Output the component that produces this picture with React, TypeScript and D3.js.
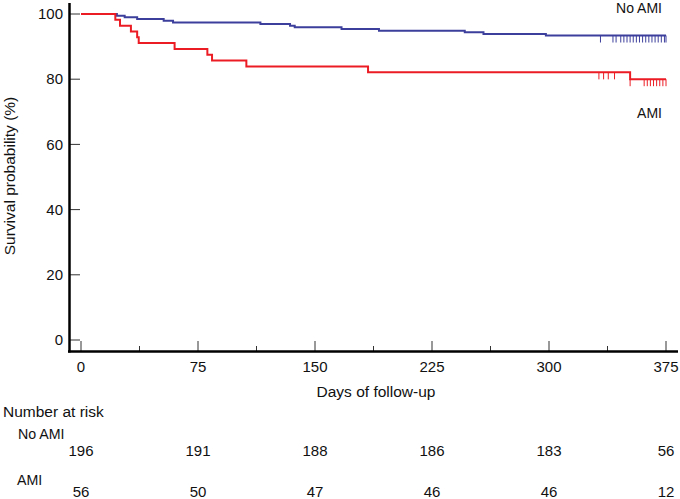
import React from "react";
import * as d3 from "d3";

const noAmiDays = [0, 23, 28, 36, 53, 59, 115, 134, 137, 167, 191, 246, 258, 298, 375];
const noAmiSurv = [100, 99.5, 99.0, 98.5, 97.9, 97.4, 96.9, 96.4, 95.9, 95.4, 94.9, 94.4, 93.9, 93.4, 93.4];
const amiDays = [0, 22, 25, 32, 36, 37, 60, 81, 84, 106, 184, 352, 375];
const amiSurv = [100, 98.2, 96.4, 94.6, 92.9, 91.1, 89.3, 87.5, 85.7, 83.9, 82.1, 80.0, 80.0];
const noAmiCensor = [333, 341, 343, 346, 348, 350, 352, 354, 356, 358, 360, 362, 364, 366, 368, 370, 372, 374, 375];
const amiCensor = [332, 335, 338, 342, 352, 361, 363, 365, 367, 369, 371, 373, 375];

const xTicks = [0, 75, 150, 225, 300, 375];
const xMinorTicks = [37.5, 112.5, 187.5, 262.5, 337.5];
const yTicks = [0, 20, 40, 60, 80, 100];
const noAmiRisk = [196, 191, 188, 186, 183, 56];
const amiRisk = [56, 50, 47, 46, 46, 12];

const BLUE = "#3d3f9c";
const RED = "#ec1c24";
const FONT = "'Liberation Sans', Arial, sans-serif";

export default function App() {
  const x = d3.scaleLinear().domain([0, 375]).range([81, 666]);
  const y = d3.scaleLinear().domain([0, 100]).range([340, 14]);

  const line = d3
    .line<[number, number]>()
    .x((d) => x(d[0]))
    .y((d) => y(d[1]))
    .curve(d3.curveStepAfter);

  const blueData: [number, number][] = noAmiDays.map((d, i) => [d, noAmiSurv[i]]);
  const redData: [number, number][] = amiDays.map((d, i) => [d, amiSurv[i]]);

  const survAt = (days: number[], surv: number[], t: number) => {
    let v = surv[0];
    for (let i = 0; i < days.length; i++) if (days[i] <= t) v = surv[i];
    return v;
  };

  return (
    <svg
      width={680}
      height={499}
      style={{ position: "absolute", left: 0, top: 0, background: "#fff" }}
      fontFamily={FONT}
    >
      <rect width={680} height={499} fill="#fff" />
      {/* y ticks */}
      {yTicks.map((t) => (
        <g key={"y" + t}>
          <line x1={69} x2={80} y1={y(t)} y2={y(t)} stroke="#333" strokeWidth={1} />
          <text x={63} y={y(t)} dy="0.35em" textAnchor="end" fontSize={15} fill="#111">
            {t}
          </text>
        </g>
      ))}
      {/* x ticks */}
      {xTicks.map((t) => (
        <g key={"x" + t}>
          <line x1={x(t)} x2={x(t)} y1={351} y2={341} stroke="#333" strokeWidth={1} />
          <text x={x(t)} y={372} textAnchor="middle" fontSize={15} fill="#111">
            {t}
          </text>
        </g>
      ))}
      {xMinorTicks.map((t) => (
        <line key={"m" + t} x1={x(t)} x2={x(t)} y1={351} y2={346} stroke="#333" strokeWidth={1} />
      ))}
      {/* axes */}
      <line x1={69.5} x2={69.5} y1={3} y2={352.5} stroke="#000" strokeWidth={2.5} />
      <line x1={68} x2={678} y1={351.5} y2={351.5} stroke="#000" strokeWidth={2.5} />

      {/* curves */}
      <path d={line(blueData) || ""} fill="none" stroke={BLUE} strokeWidth={2} />
      <path d={line(redData) || ""} fill="none" stroke={RED} strokeWidth={2} />
      {noAmiCensor.map((t, i) => {
        const v = y(survAt(noAmiDays, noAmiSurv, t));
        return <line key={"bc" + i} x1={x(t)} x2={x(t)} y1={v} y2={v + 7} stroke={BLUE} strokeWidth={1} />;
      })}
      {amiCensor.map((t, i) => {
        const v = y(survAt(amiDays, amiSurv, t));
        return <line key={"rc" + i} x1={x(t)} x2={x(t)} y1={v} y2={v + 7} stroke={RED} strokeWidth={1} />;
      })}

      {/* curve labels */}
      <text x={662} y={12.7} textAnchor="end" fontSize={14} fill="#111">No AMI</text>
      <text x={662} y={118.3} textAnchor="end" fontSize={14} fill="#111">AMI</text>

      {/* axis titles */}
      <text
        transform={`translate(15,176) rotate(-90)`}
        textAnchor="middle"
        fontSize={15.5}
        fill="#111"
      >
        Survival probability (%)
      </text>
      <text x={376} y={396.5} textAnchor="middle" fontSize={15.5} fill="#111">
        Days of follow-up
      </text>

      {/* number at risk */}
      <text x={3} y={416.5} fontSize={15.5} fill="#111">Number at risk</text>
      <text x={18} y={439} fontSize={14.2} fill="#111">No AMI</text>
      {noAmiRisk.map((n, i) => (
        <text key={"nr" + i} x={x(xTicks[i])} y={456} textAnchor="middle" fontSize={15} fill="#111">
          {n}
        </text>
      ))}
      <text x={17} y={485} fontSize={14.2} fill="#111">AMI</text>
      {amiRisk.map((n, i) => (
        <text key={"ar" + i} x={x(xTicks[i])} y={496.5} textAnchor="middle" fontSize={15} fill="#111">
          {n}
        </text>
      ))}
    </svg>
  );
}
